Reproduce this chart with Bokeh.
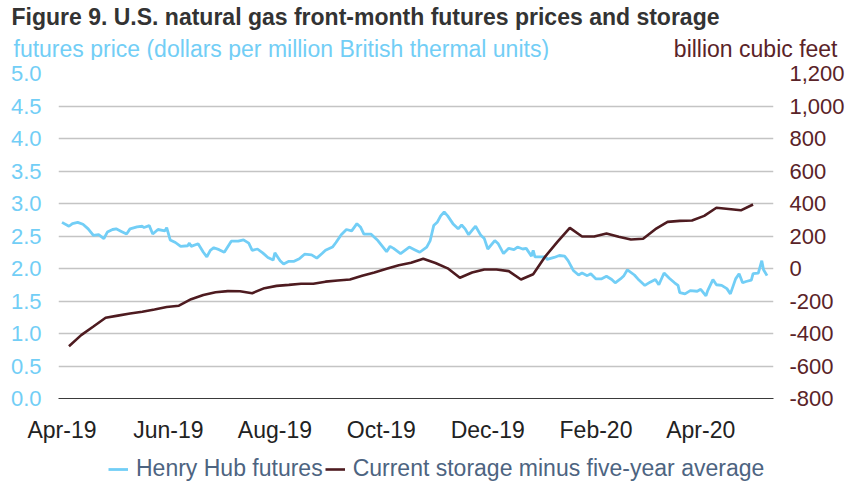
import pandas as pd
from bokeh.plotting import figure
from bokeh.layouts import column
from bokeh.models import (Range1d, LinearAxis, FixedTicker, NumeralTickFormatter,
                          DatetimeTickFormatter, Label, Legend, LegendItem)
from bokeh.embed import file_html
from bokeh.resources import INLINE

# ---------------- data ----------------
TITLE = "Figure 9. U.S. natural gas front-month futures prices and storage"
LEFT_UNITS = "futures price (dollars per million British thermal units)"
RIGHT_UNITS = "billion cubic feet"
SERIES_NAMES = ["Henry Hub futures", "Current storage minus five-year average"]

START_DATE = "2019-04-01"
# days since START_DATE of each futures observation
hh_day = [0, 4, 6, 9, 12, 15, 18, 21, 24, 26, 29, 31, 34, 37, 39, 43, 46, 47, 50, 52,
          55, 59, 60, 62, 65, 68, 72, 73, 74, 78, 81, 83, 85, 87, 90, 93, 97, 101, 104, 107,
          109, 112, 115, 118, 121, 122, 125, 127, 130, 133, 136, 139,
          143, 146, 149, 151, 155, 157, 160, 163, 166, 169, 171, 173, 177, 181, 186, 188, 190, 194,
          199, 202, 205, 209, 211, 213, 215, 217, 219, 221, 224, 227, 229, 231, 233, 236, 237, 240,
          242, 244, 248, 250, 253, 256, 259, 261, 264, 266, 269, 270, 271, 274, 277,
          278, 282, 285, 288, 290, 293, 296, 298, 301, 303, 306, 309, 312, 315, 317, 320, 322, 324,
          328, 330, 334, 337, 340, 342, 345, 348, 351, 353, 354, 357, 360, 364, 366, 369, 370, 373,
          375, 378, 381, 383, 386, 388, 390, 392, 395, 396, 399, 401, 402, 404]
hh_price = [2.71, 2.65, 2.69, 2.71, 2.68, 2.61, 2.51, 2.52, 2.46, 2.56, 2.60, 2.61, 2.57, 2.53,
            2.61, 2.64, 2.65, 2.63, 2.66, 2.53, 2.60, 2.58, 2.63, 2.44, 2.40, 2.34, 2.35, 2.39,
            2.34, 2.38, 2.25, 2.18, 2.28, 2.32, 2.29, 2.25, 2.42, 2.42, 2.44, 2.39, 2.28, 2.30,
            2.24, 2.17, 2.13, 2.24, 2.12, 2.07, 2.11, 2.11, 2.15, 2.22,
            2.21, 2.16, 2.23, 2.28, 2.33, 2.40, 2.52, 2.60, 2.58, 2.69, 2.64, 2.53, 2.53, 2.43,
            2.26, 2.34, 2.31, 2.23, 2.33, 2.29, 2.25, 2.33, 2.43, 2.66, 2.71, 2.81, 2.87, 2.81,
            2.69, 2.61, 2.67, 2.61, 2.52, 2.62, 2.65, 2.51, 2.46, 2.30, 2.43, 2.38, 2.23, 2.31,
            2.29, 2.33, 2.30, 2.31, 2.19, 2.28, 2.18, 2.18, 2.18,
            2.14, 2.17, 2.20, 2.19, 2.12, 1.97, 1.90, 1.93, 1.89, 1.92, 1.84, 1.84, 1.88, 1.83,
            1.78, 1.84, 1.89, 1.98, 1.90, 1.84, 1.74, 1.79, 1.83, 1.75, 1.93, 1.85, 1.78, 1.74,
            1.63, 1.61, 1.66, 1.65, 1.68, 1.58, 1.66, 1.83, 1.75, 1.74, 1.69, 1.61, 1.84, 1.92,
            1.78, 1.80, 1.82, 1.92, 1.93, 2.12, 1.98, 1.89]

# weekly storage (week ending Friday) minus five-year average, Bcf
STORAGE_FIRST_WEEK = "2019-04-05"
storage_gap = [-478, -410, -357, -303, -290, -277, -266, -252, -237, -229,
               -189, -163, -146, -139, -140, -152, -121, -107, -101, -94,
               -94, -81, -74, -68, -45, -24, -1, 20, 35, 60,
               34, 1, -57, -25, -6, -6, -16, -68, -35, 75,
               165, 250, 197, 197, 216, 195, 178, 183, 242, 287,
               293, 295, 324, 374, 366, 358, 394]

x_tick_dates = ["2019-04-01", "2019-06-01", "2019-08-01", "2019-10-01",
                "2019-12-01", "2020-02-01", "2020-04-01"]
price_ticks = [0.0, 0.5, 1.0, 1.5, 2.0, 2.5, 3.0, 3.5, 4.0, 4.5, 5.0]
storage_ticks = [-800, -600, -400, -200, 0, 200, 400, 600, 800, 1000, 1200]

# ---------------- styling ----------------
BLUE = "#72cef6"
BROWN = "#4e1b20"
BROWN_TXT = "#5a2328"
FONT = "Liberation Sans"
FS = "23px"
W = 847
HEAD_H, MAIN_H, FOOT_H = 60, 386, 40

hh_dates = pd.Timestamp(START_DATE) + pd.to_timedelta(hh_day, unit="D")
stor_dates = pd.date_range(STORAGE_FIRST_WEEK, periods=len(storage_gap), freq="7D")


def bare(height):
    f = figure(width=W, height=height, output_backend="svg", toolbar_location=None,
               x_range=Range1d(0, W), y_range=Range1d(0, height),
               x_axis_location=None, y_axis_location=None, min_border=0,
               frame_align=False)
    f.grid.visible = False
    f.outline_line_color = None
    return f


# ---------------- header: title and unit captions ----------------
head = bare(HEAD_H)
head.add_layout(Label(x=11, y=44, text=TITLE, text_font=FONT, text_font_size=FS,
                      text_font_style="bold", text_color="#333333",
                      text_baseline="alphabetic"))
head.add_layout(Label(x=13, y=12, text=LEFT_UNITS, text_font=FONT, text_font_size=FS,
                      text_color=BLUE, text_baseline="alphabetic"))
head.add_layout(Label(x=837, y=12, text=RIGHT_UNITS, text_font=FONT, text_font_size=FS,
                      text_color=BROWN_TXT, text_baseline="alphabetic", text_align="right"))

# ---------------- main chart ----------------
p = figure(width=W, height=MAIN_H, x_axis_type="datetime", output_backend="svg",
           toolbar_location=None, title=None, frame_align=False,
           x_range=Range1d(pd.Timestamp("2019-03-30"), pd.Timestamp("2020-05-12 17:00")),
           y_range=Range1d(price_ticks[0], price_ticks[-1]),
           min_border_left=58, min_border_right=72, min_border_top=13, min_border_bottom=48)
p.outline_line_color = None
p.background_fill_color = "white"
p.border_fill_color = "white"
p.extra_y_ranges = {"stor": Range1d(storage_ticks[0], storage_ticks[-1])}

xa = p.xaxis[0]
xa.ticker = FixedTicker(ticks=[pd.Timestamp(d).timestamp() * 1000 for d in x_tick_dates])
xa.formatter = DatetimeTickFormatter(days="%b-%y", months="%b-%y", years="%b-%y",
                                     hours="%b-%y", minutes="%b-%y")
xa.axis_line_color = "#3a3a3a"
xa.axis_line_width = 1.2
xa.major_tick_line_color = None
xa.minor_tick_line_color = None
xa.major_label_standoff = 12
xa.major_label_text_font = FONT
xa.major_label_text_font_size = FS
xa.major_label_text_color = "#222222"

ya = p.yaxis[0]
ya.ticker = FixedTicker(ticks=price_ticks)
ya.formatter = NumeralTickFormatter(format="0.0")
ya.axis_line_color = None
ya.major_tick_line_color = None
ya.minor_tick_line_color = None
ya.major_label_standoff = 11
ya.major_label_text_font = FONT
ya.major_label_text_font_size = "22px"
ya.major_label_text_color = BLUE

ra = LinearAxis(y_range_name="stor", ticker=FixedTicker(ticks=storage_ticks),
                formatter=NumeralTickFormatter(format="0,0"))
ra.axis_line_color = None
ra.major_tick_line_color = None
ra.minor_tick_line_color = None
ra.major_label_standoff = 10
ra.major_label_text_font = FONT
ra.major_label_text_font_size = "22px"
ra.major_label_text_color = BROWN_TXT
p.add_layout(ra, "right")

p.xgrid.visible = False
p.ygrid.ticker = FixedTicker(ticks=price_ticks[1:])
p.ygrid.grid_line_color = "#c4c4c4"
p.ygrid.grid_line_width = 1.3

p.line(hh_dates, hh_price, line_color=BLUE, line_width=2.8)
p.line(stor_dates, storage_gap, y_range_name="stor", line_color=BROWN, line_width=2.6)

# ---------------- footer: legend (key glyphs only, no visible data) ----------------
foot = bare(FOOT_H)
nan = float("nan")
k1 = foot.line(x=[nan], y=[nan], line_color=BLUE, line_width=2.8)
k2 = foot.line(x=[nan], y=[nan], line_color=BROWN, line_width=2.6)
legend = Legend(items=[LegendItem(label=SERIES_NAMES[0], renderers=[k1]),
                       LegendItem(label=SERIES_NAMES[1], renderers=[k2])],
                orientation="horizontal", location=(108, 4),
                border_line_color=None, background_fill_alpha=0,
                padding=0, margin=0, spacing=2, glyph_width=20, label_standoff=8,
                label_text_font=FONT, label_text_font_size=FS,
                label_text_color="#4d6481")
foot.add_layout(legend)

layout = column(head, p, foot, spacing=0)
open("out.html", "w").write(file_html(layout, INLINE))
